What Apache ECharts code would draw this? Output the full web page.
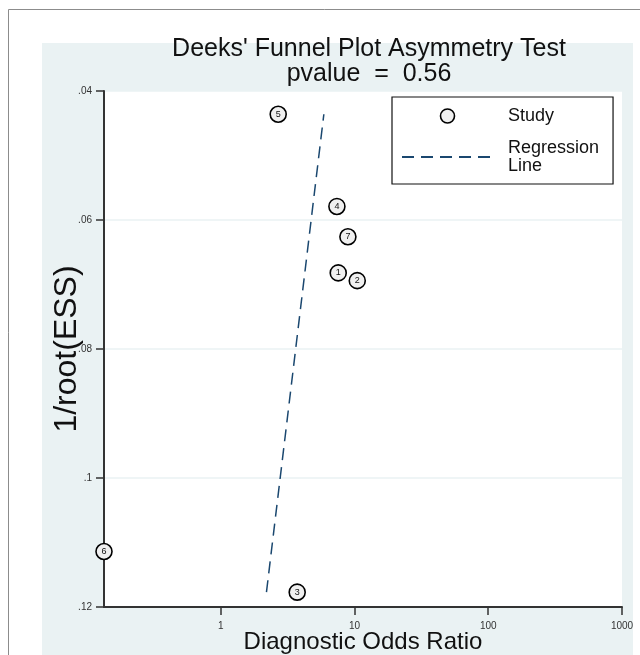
<!DOCTYPE html>
<html>
<head>
<meta charset="utf-8">
<script src="https://cdn.jsdelivr.net/npm/echarts@6/dist/echarts.min.js"></script>
<style>
html,body{margin:0;padding:0;background:#fff;}
#chart{width:640px;height:655px;}
</style>
</head>
<body>
<div id="chart"></div>
<script>
// Study data (Diagnostic odds ratio, 1/root(ESS))
const studyIds = ['1', '2', '3', '4', '5', '6', '7'];
const studyDOR = [7.56, 10.49, 3.73, 7.39, 2.69, 0.1341, 8.93];
const studyInvRootESS = [0.0682, 0.0694, 0.1177, 0.0579, 0.0436, 0.1114, 0.0626];
// Regression line end points
const regDOR = [2.198, 5.902];
const regInvRootESS = [0.1177, 0.0436];
// Axis ticks
const xTickValues = [1, 10, 100, 1000];
const yTickLabels = {'0.04': '.04', '0.06': '.06', '0.08': '.08', '0.1': '.1', '0.12': '.12'};
const titleText = "Deeks' Funnel Plot Asymmetry Test\npvalue  =  0.56";

const FONT = 'Liberation Sans, Arial, sans-serif';
const chart = echarts.init(document.getElementById('chart'), null, {renderer: 'canvas'});

const scatterData = studyIds.map((id, i) => ({value: [studyDOR[i], studyInvRootESS[i]], name: id}));
const lineData = regDOR.map((x, i) => [x, regInvRootESS[i]]);

chart.setOption({
  backgroundColor: '#ffffff',
  animation: false,
  graphic: [
    {type: 'rect', z: -10, shape: {x: 42, y: 43, width: 591, height: 612}, style: {fill: '#eaf2f3'}, silent: true},
    {type: 'line', z: -10, shape: {x1: 8.5, y1: 9.5, x2: 8.5, y2: 655}, style: {stroke: '#8c8c8c', lineWidth: 1}},
    {type: 'line', z: -10, shape: {x1: 8.5, y1: 9.5, x2: 640, y2: 9.5}, style: {stroke: '#8c8c8c', lineWidth: 1}}
  ],
  title: {
    text: titleText,
    left: 369,
    top: 37,
    padding: 0,
    textAlign: 'center',
    textStyle: {fontFamily: FONT, fontSize: 25, fontWeight: 'normal', color: '#111', lineHeight: 25}
  },
  legend: {
    orient: 'vertical',
    left: 392,
    top: 97,
    backgroundColor: '#ffffff',
    borderColor: '#111',
    borderWidth: 1.2,
    padding: [10, 14, 9, 9],
    itemWidth: 91,
    itemHeight: 14,
    itemGap: 14,
    textStyle: {fontFamily: FONT, fontSize: 18, color: '#111', lineHeight: 18, padding: [0, 0, 0, 10]},
    data: [
      {name: 'Study', icon: 'circle', itemStyle: {color: '#f0f0f0', borderColor: '#000', borderWidth: 1.6}},
      {name: 'Regression\nLine', itemStyle: {color: 'rgba(0,0,0,0)', borderWidth: 0, opacity: 0}}
    ]
  },
  grid: {
    left: 104, top: 91, right: 18, bottom: 48,
    outerBoundsMode: 'none',
    containLabel: false,
    show: true, backgroundColor: '#ffffff', borderWidth: 0
  },
  xAxis: {
    type: 'log',
    logBase: 10,
    min: Math.min(...studyDOR),
    max: 1000,
    name: 'Diagnostic Odds Ratio',
    nameLocation: 'middle',
    nameGap: 23,
    nameMoveOverlap: false,
    nameTextStyle: {fontFamily: FONT, fontSize: 24, color: '#111'},
    axisLine: {show: true, lineStyle: {color: '#333', width: 2}},
    axisTick: {show: true, length: 8, customValues: xTickValues, lineStyle: {color: '#333', width: 1.5}},
    axisLabel: {customValues: xTickValues, fontFamily: FONT, fontSize: 10, color: '#333', margin: 14,
      formatter: v => String(Math.round(v))},
    splitLine: {show: false},
    minorTick: {show: false}
  },
  yAxis: {
    type: 'value',
    inverse: true,
    min: 0.04,
    max: 0.12,
    interval: 0.02,
    name: '1/root(ESS)',
    nameLocation: 'middle',
    nameGap: 21,
    nameMoveOverlap: false,
    nameRotate: 90,
    nameTextStyle: {fontFamily: FONT, fontSize: 32, color: '#111'},
    axisLine: {show: true, lineStyle: {color: '#333', width: 2}},
    axisTick: {show: true, length: 8, lineStyle: {color: '#333', width: 1.5}},
    axisLabel: {fontFamily: FONT, fontSize: 10, color: '#333', margin: 12,
      formatter: v => yTickLabels[String(+v.toFixed(2))] || ''},
    splitLine: {show: true, lineStyle: {color: '#eaf2f3', width: 1.5}}
  },
  series: [
    {
      name: 'Study',
      type: 'scatter',
      symbol: 'circle',
      symbolSize: 16,
      data: scatterData,
      itemStyle: {color: '#f0f0f0', borderColor: '#000', borderWidth: 1.6, opacity: 1},
      label: {show: true, position: 'inside', formatter: p => p.name, fontFamily: FONT, fontSize: 9, color: '#111'},
      z: 5
    },
    {
      name: 'Regression\nLine',
      type: 'line',
      data: lineData,
      symbol: 'none',
      showSymbol: false,
      itemStyle: {color: '#1a476f'},
      lineStyle: {color: '#1a476f', width: 1.5, type: [12, 7]},
      z: 4
    }
  ]
});
</script>
</body>
</html>
